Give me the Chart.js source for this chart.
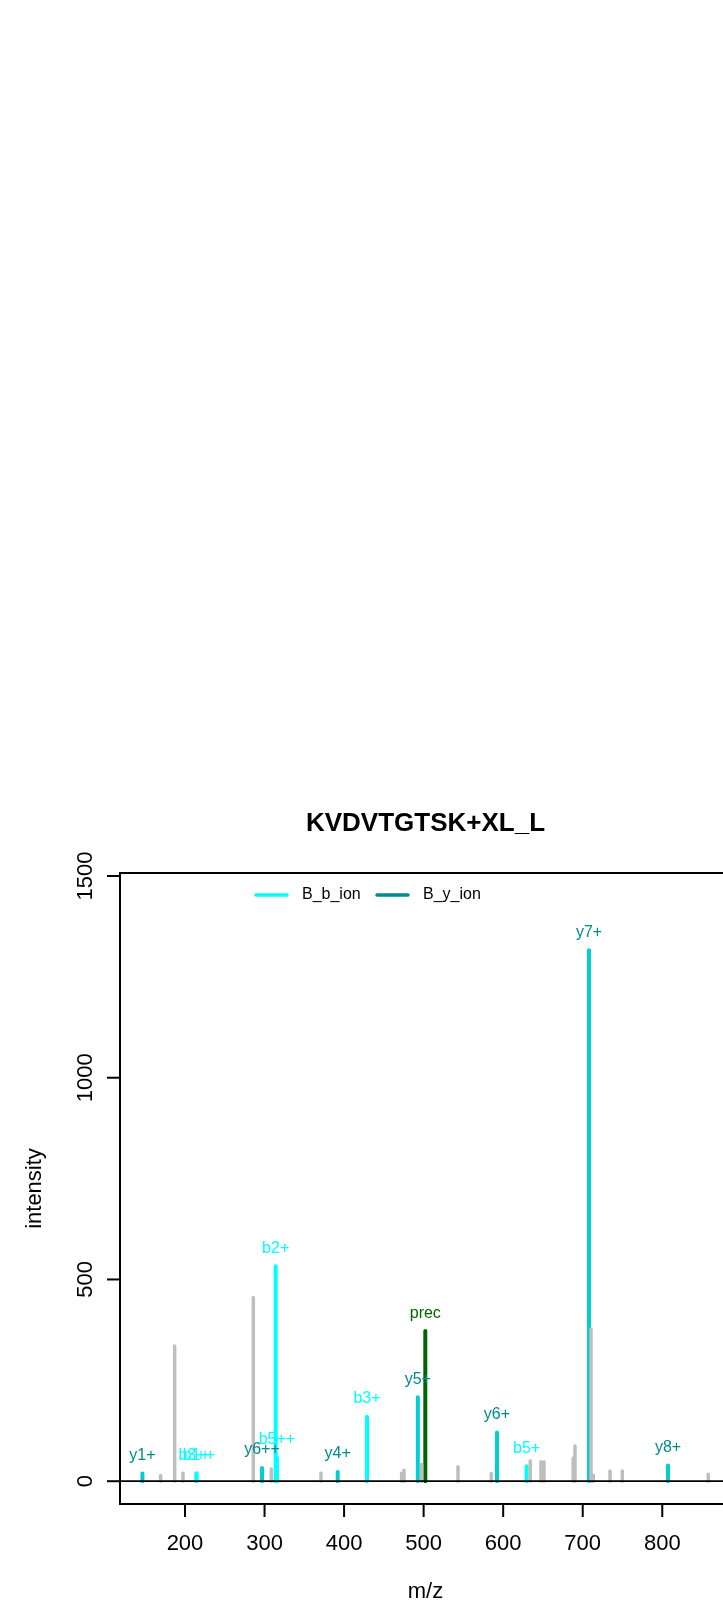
<!DOCTYPE html>
<html>
<head>
<meta charset="utf-8">
<title>KVDVTGTSK+XL_L</title>
<script src="https://cdn.jsdelivr.net/npm/chart.js@4.4.1/dist/chart.umd.min.js"></script>
<style>
  html, body { margin: 0; padding: 0; background: #fff; overflow: hidden; }
  canvas { display: block; }
</style>
</head>
<body>
<canvas id="espectro" width="760" height="1608"></canvas>
<script>
// picos sem anotacao (cinza)
const grayMz  = [169.4, 187.0, 197.5, 285.9, 308.5, 371.0, 472.4, 475.3, 497.5, 543.2, 585.0, 634.0, 647.5, 651.3, 688.0, 690.3, 710.4, 713.3, 734.3, 749.7, 857.8];
const grayInt = [14, 335, 20, 455, 30, 20, 20, 27, 42, 36, 19, 50, 48, 48, 57, 87, 377, 15, 25, 25, 17];

// ions b
const bMz     = [214.2, 214.7, 315.6, 314.0, 428.8, 629.5];
const bInt    = [18, 20, 58, 533, 160, 37];
const bLabels = ["b1+", "b3++", "b5++", "b2+", "b3+", "b5+"];

// ions y
const yMz     = [146.5, 296.8, 392.0, 492.7, 592.2, 707.9, 807.2];
const yInt    = [19, 33, 23, 208, 121, 1316, 39];
const yLabels = ["y1+", "y6++", "y4+", "y5+", "y6+", "y7+", "y8+"];

// precursor
const precMz     = [502.1];
const precInt    = [372];
const precLabels = ["prec"];

const xTicks = [200, 300, 400, 500, 600, 700, 800];
const yTicks = [0, 500, 1000, 1500];

const legendLabels = ["B_b_ion", "B_y_ion"];
const legendColors = ["#00FFFF", "#008B8B"];

const titulo = "KVDVTGTSK+XL_L";
const xTitulo = "m/z";
const yTitulo = "intensity";

const fonte = '"Liberation Sans", Arial, Helvetica, sans-serif';

function segmentos(mzs, ints) {
  let pts = [];
  mzs.forEach(function (mz, i) {
    pts.push({ x: mz, y: 0 });
    pts.push({ x: mz, y: ints[i] });
    pts.push({ x: mz, y: null });
  });
  return pts;
}

function dataset(mzs, ints, cor, largura) {
  return {
    data: segmentos(mzs, ints),
    showLine: true,
    spanGaps: false,
    borderColor: cor,
    borderWidth: largura,
    borderCapStyle: 'round',
    pointRadius: 0,
    fill: false
  };
}

const anotacoes = [
  { mz: bMz, it: bInt, lab: bLabels, cor: "#00FFFF" },
  { mz: yMz, it: yInt, lab: yLabels, cor: "#008B8B" },
  { mz: precMz, it: precInt, lab: precLabels, cor: "#006400" }
];

const eixosR = {
  id: 'eixosR',
  afterDatasetsDraw(chart) {
    const ctx = chart.ctx;
    const a = chart.chartArea;
    const sx = chart.scales.x;
    const sy = chart.scales.y;
    ctx.save();

    // linha do zero
    ctx.strokeStyle = "#000";
    ctx.lineWidth = 1.7;
    ctx.beginPath();
    ctx.moveTo(a.left, sy.getPixelForValue(0));
    ctx.lineTo(a.right, sy.getPixelForValue(0));
    ctx.stroke();

    // caixa
    ctx.lineWidth = 2;
    ctx.strokeRect(a.left, a.top, a.right - a.left, a.bottom - a.top);

    // eixo x
    ctx.fillStyle = "#000";
    ctx.font = "22px " + fonte;
    ctx.textAlign = "center";
    ctx.textBaseline = "alphabetic";
    xTicks.forEach(function (t) {
      let px = sx.getPixelForValue(t);
      ctx.beginPath();
      ctx.moveTo(px, a.bottom);
      ctx.lineTo(px, a.bottom + 13);
      ctx.stroke();
      ctx.fillText(String(t), px, 1550);
    });

    // eixo y
    yTicks.forEach(function (t) {
      let py = sy.getPixelForValue(t);
      ctx.beginPath();
      ctx.moveTo(a.left, py);
      ctx.lineTo(a.left - 13, py);
      ctx.stroke();
      ctx.save();
      ctx.translate(92, py);
      ctx.rotate(-Math.PI / 2);
      ctx.fillText(String(t), 0, 0);
      ctx.restore();
    });

    // titulos
    ctx.fillText(xTitulo, (a.left + a.right) / 2, 1598);
    ctx.save();
    ctx.translate(41, (a.top + a.bottom) / 2);
    ctx.rotate(-Math.PI / 2);
    ctx.fillText(yTitulo, 0, 0);
    ctx.restore();

    ctx.font = "bold 26px " + fonte;
    ctx.fillText(titulo, (a.left + a.right) / 2, 831);

    // rotulos dos picos
    ctx.font = "16px " + fonte;
    ctx.textBaseline = "middle";
    anotacoes.forEach(function (g) {
      ctx.fillStyle = g.cor;
      g.mz.forEach(function (mz, i) {
        ctx.fillText(g.lab[i], sx.getPixelForValue(mz), sy.getPixelForValue(g.it[i]) - 18);
      });
    });

    // legenda
    const linhasX = [256, 377];
    ctx.textAlign = "left";
    ctx.lineWidth = 3.5;
    ctx.lineCap = "round";
    legendLabels.forEach(function (lab, i) {
      ctx.strokeStyle = legendColors[i];
      ctx.beginPath();
      ctx.moveTo(linhasX[i], 895);
      ctx.lineTo(linhasX[i] + 31, 895);
      ctx.stroke();
      ctx.fillStyle = "#000";
      ctx.fillText(lab, linhasX[i] + 46, 895);
    });

    ctx.restore();
  }
};

new Chart(document.getElementById("espectro"), {
  type: 'scatter',
  data: {
    datasets: [
      dataset(grayMz, grayInt, "#BEBEBE", 3.5),
      dataset(bMz, bInt, "#00FFFF", 4),
      dataset(yMz, yInt, "#00CED1", 4),
      dataset(precMz, precInt, "#006400", 4)
    ]
  },
  options: {
    responsive: false,
    animation: false,
    devicePixelRatio: 1,
    layout: { padding: { left: 120, top: 873, right: 29, bottom: 104 } },
    scales: {
      x: { type: 'linear', min: 118.3, max: 886.4, display: false },
      y: { type: 'linear', min: -56.5, max: 1507.4, display: false }
    },
    plugins: {
      legend: { display: false },
      tooltip: { enabled: false }
    }
  },
  plugins: [eixosR]
});
</script>
</body>
</html>
